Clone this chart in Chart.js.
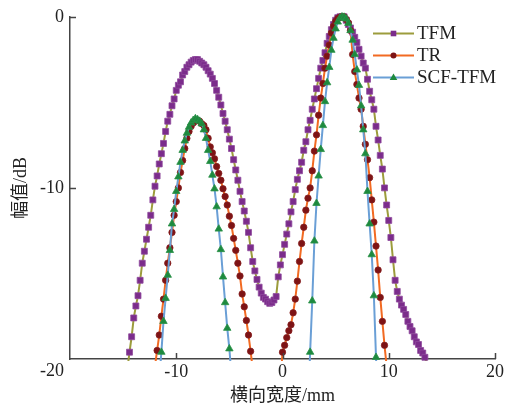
<!DOCTYPE html>
<html>
<head>
<meta charset="utf-8">
<script src="https://cdn.jsdelivr.net/npm/chart.js@4/dist/chart.umd.min.js"></script>
<style>
  body { margin: 0; background: #fff; }
</style>
</head>
<body>
<canvas id="beamChart" width="517" height="411"></canvas>
<script>
// axis ticks
const xTicks = [-20, -10, 0, 10, 20];
const yTicks = [0, -10, -20];

// TFM
const tfmX = [-14.6,-14.4,-14.2,-14.0,-13.8,-13.6,-13.4,-13.2,-13.0,-12.8,
  -12.6,-12.4,-12.2,-12.0,-11.8,-11.6,-11.4,-11.2,-11.0,-10.8,
  -10.6,-10.4,-10.2,-10.0,-9.8,-9.6,-9.4,-9.2,-9.0,-8.8,
  -8.6,-8.4,-8.2,-8.0,-7.8,-7.6,-7.4,-7.2,-7.0,-6.8,
  -6.6,-6.4,-6.2,-6.0,-5.8,-5.6,-5.4,-5.2,-5.0,-4.8,
  -4.6,-4.4,-4.2,-4.0,-3.8,-3.6,-3.4,-3.2,-3.0,-2.8,
  -2.6,-2.4,-2.2,-2.0,-1.8,-1.6,-1.4,-1.2,-1.0,-0.8,
  -0.6,-0.4,-0.2,0.0,0.2,0.4,0.6,0.8,1.0,1.2,
  1.4,1.6,1.8,2.0,2.2,2.4,2.6,2.8,3.0,3.2,
  3.4,3.6,3.8,4.0,4.2,4.4,4.6,4.8,5.0,5.2,
  5.4,5.6,5.8,6.0,6.2,6.4,6.6,6.8,7.0,7.2,
  7.4,7.6,7.8,8.0,8.2,8.4,8.6,8.8,9.0,9.2,
  9.4,9.6,9.8,10.0,10.2,10.4,10.6,10.8,11.0,11.2,
  11.4,11.6,11.8,12.0,12.2,12.4,12.6,12.8,13.0,13.2,
  13.4,13.6];
const tfmY = [-20.6,-19.6,-18.7,-17.6,-16.9,-16.3,-15.4,-14.4,-13.7,-13.0,
  -12.3,-11.6,-10.7,-9.9,-9.3,-8.6,-8.0,-7.4,-6.7,-6.1,
  -5.7,-5.2,-4.8,-4.3,-4.0,-3.8,-3.4,-3.2,-2.95,-2.8,
  -2.65,-2.55,-2.5,-2.5,-2.6,-2.7,-2.8,-2.95,-3.15,-3.35,
  -3.6,-3.9,-4.3,-4.7,-5.15,-5.65,-6.1,-6.6,-7.15,-7.7,
  -8.35,-8.95,-9.55,-10.2,-10.8,-11.35,-11.95,-12.6,-13.5,-14.3,
  -14.85,-15.35,-15.8,-16.15,-16.4,-16.5,-16.65,-16.75,-16.7,-16.55,
  -16.35,-15.2,-14.5,-13.9,-13.3,-12.7,-12.1,-11.4,-10.8,-10.1,
  -9.5,-9.0,-8.5,-7.8,-7.3,-6.6,-6.05,-5.4,-4.8,-4.2,
  -3.6,-3.0,-2.55,-2.1,-1.55,-1.15,-0.75,-0.45,-0.2,-0.05,
  0,0,0,-0.2,-0.45,-0.65,-0.9,-1.2,-1.5,-1.9,
  -2.3,-2.7,-3.0,-3.65,-4.35,-4.85,-5.4,-6.4,-7.2,-8.1,
  -8.9,-10.0,-11.0,-11.9,-12.9,-14.2,-15.4,-16.05,-16.5,-16.85,
  -17.1,-17.4,-17.8,-18.1,-18.35,-18.7,-19.0,-19.15,-19.5,-19.65,
  -19.9,-20.3];

// TR (gap where the curve is below -20 dB)
const trX = [-12.0,-11.8,-11.6,-11.4,-11.2,-11.0,-10.8,-10.6,-10.4,-10.2,
  -10.0,-9.8,-9.6,-9.4,-9.2,-9.0,-8.8,-8.6,-8.4,-8.2,
  -8.0,-7.8,-7.6,-7.4,-7.2,-7.0,-6.8,-6.6,-6.4,-6.2,
  -6.0,-5.8,-5.6,-5.4,-5.2,-5.0,-4.8,-4.6,-4.4,-4.2,
  -4.0,-3.8,-3.6,-3.4,-3.2,-3.0,-2.8,
  -1.5,
  -0.2,0.0,0.2,0.4,0.6,0.8,1.0,1.2,1.4,1.6,
  1.8,2.0,2.2,2.4,2.6,2.8,3.0,3.2,3.4,3.6,
  3.8,4.0,4.2,4.4,4.6,4.8,5.0,5.2,5.4,5.6,
  5.8,6.0,6.2,6.4,6.6,6.8,7.0,7.2,7.4,7.6,
  7.8,8.0,8.2,8.4,8.6,8.8,9.0,9.2,9.4,9.6,
  9.8];
const trY = [-20.4,-19.5,-18.6,-17.5,-16.5,-15.4,-14.4,-13.5,-12.6,-11.6,
  -10.8,-10.0,-9.1,-8.4,-7.7,-7.1,-6.7,-6.4,-6.2,-6.1,
  -6.05,-6.1,-6.25,-6.35,-6.6,-7.1,-7.6,-7.95,-8.3,-8.75,
  -9.15,-9.55,-10.05,-10.5,-11.0,-11.65,-12.2,-12.95,-13.65,-14.4,
  -15.15,-16.2,-16.95,-17.75,-18.6,-19.55,-20.6,
  null,
  -21.5,-19.6,-19.2,-18.75,-18.35,-18.0,-17.3,-16.5,-15.45,-14.3,
  -13.25,-12.3,-11.3,-10.6,-10.0,-9.0,-7.85,-6.9,-5.75,-4.75,
  -3.9,-3.0,-2.3,-1.65,-0.95,-0.55,-0.27,-0.1,-0.02,0,
  0,-0.15,-0.35,-0.8,-2.2,-3.2,-3.95,-4.75,-5.4,-6.4,
  -7.45,-8.35,-9.4,-10.7,-12.0,-13.4,-14.8,-16.4,-17.8,-19.2,
  -20.4];

// SCF-TFM
const scfX = [-11.6,-11.4,-11.2,-11.0,-10.8,-10.6,-10.4,-10.2,-10.0,-9.8,
  -9.6,-9.4,-9.2,-9.0,-8.8,-8.6,-8.4,-8.2,-8.0,-7.8,
  -7.6,-7.4,-7.2,-7.0,-6.8,-6.6,-6.4,-6.2,-6.0,-5.8,
  -5.6,-5.4,-5.2,-5.0,-4.8,
  -1.0,
  2.4,2.6,2.8,3.0,3.2,3.4,3.6,3.8,4.0,4.2,
  4.4,4.6,4.8,5.0,5.2,5.4,5.6,5.8,6.0,6.2,
  6.4,6.6,6.8,7.0,7.2,7.4,7.6,7.8,8.0,8.2,
  8.4,8.6,8.8,9.0];
const scfY = [-21.2,-19.6,-17.8,-16.45,-15.1,-13.65,-12.1,-11.25,-10.2,-9.35,
  -8.5,-7.8,-7.25,-6.8,-6.45,-6.2,-6.05,-5.95,-6.0,-6.1,
  -6.25,-6.6,-7.1,-7.8,-8.45,-9.25,-10.05,-11.1,-12.4,-13.6,
  -15.2,-16.7,-18.2,-19.4,-21.0,
  null,
  -23.0,-19.6,-16.6,-13.1,-10.9,-9.3,-7.75,-6.35,-4.95,-3.85,
  -2.95,-1.95,-1.25,-0.7,-0.3,-0.08,0,-0.02,-0.12,-0.38,
  -0.8,-1.36,-2.2,-3.1,-4.0,-5.2,-6.6,-8.0,-10.2,-12.1,
  -13.9,-16.3,-19.9,-23.0];

const serif = "'Liberation Serif', 'Times New Roman', 'Noto Sans CJK SC', serif";
const textColor = '#222';
const axisColor = '#444';

function pairs(xs, ys) {
    return xs.map((x, i) => ({ x: x, y: ys[i] }));
}

const clipBox = { left: 0, top: 8, right: 0, bottom: 2 };

// inward ticks, corner label and line+marker legend
const decorPlugin = {
    id: 'decor',
    afterDraw(chart) {
        const ctx = chart.ctx;
        const area = chart.chartArea;
        const xs = chart.scales.x;
        const ys = chart.scales.y;
        ctx.save();
        ctx.strokeStyle = axisColor;
        ctx.lineWidth = 1.5;
        ctx.beginPath();
        xTicks.forEach(v => {
            if (v === xTicks[0]) return;
            const px = Math.round(xs.getPixelForValue(v)) + 0.5;
            ctx.moveTo(px, area.bottom);
            ctx.lineTo(px, area.bottom - 6);
        });
        yTicks.forEach(v => {
            if (v === yTicks[yTicks.length - 1]) return;
            const py = Math.round(ys.getPixelForValue(v)) + 0.5;
            ctx.moveTo(area.left, py);
            ctx.lineTo(area.left + 6, py);
        });
        ctx.stroke();

        // shared corner label
        ctx.fillStyle = textColor;
        ctx.font = '18px ' + serif;
        ctx.textAlign = 'right';
        ctx.textBaseline = 'middle';
        ctx.fillText(String(yTicks[yTicks.length - 1]), area.left - 6, area.bottom + 12);

        // legend
        const x0 = 373, x1 = 414, xm = 393.5, tx = 417;
        const rows = [33.5, 55.5, 77.5];
        chart.data.datasets.forEach((ds, i) => {
            const y = rows[i];
            ctx.strokeStyle = ds.borderColor;
            ctx.lineWidth = 2;
            ctx.beginPath();
            ctx.moveTo(x0, y);
            ctx.lineTo(x1, y);
            ctx.stroke();
            ctx.fillStyle = ds.pointBackgroundColor;
            ctx.beginPath();
            if (ds.pointStyle === 'rect') {
                ctx.rect(xm - 2.8, y - 2.8, 5.6, 5.6);
            } else if (ds.pointStyle === 'circle') {
                ctx.arc(xm, y, 3, 0, Math.PI * 2);
            } else {
                ctx.moveTo(xm, y - 4);
                ctx.lineTo(xm + 3.8, y + 2.5);
                ctx.lineTo(xm - 3.8, y + 2.5);
                ctx.closePath();
            }
            ctx.fill();
            ctx.fillStyle = textColor;
            ctx.font = '19px ' + serif;
            ctx.textAlign = 'left';
            ctx.textBaseline = 'middle';
            ctx.fillText(ds.label, tx, y + 1);
        });
        ctx.restore();
    }
};

const ctx = document.getElementById('beamChart').getContext('2d');
const beamChart = new Chart(ctx, {
    type: 'line',
    data: {
        datasets: [{
            label: 'TFM',
            data: pairs(tfmX, tfmY),
            borderColor: '#9c9c3c',
            borderWidth: 2,
            pointStyle: 'rect',
            pointRadius: 4.2,
            pointBackgroundColor: '#7b2c8b',
            pointBorderColor: '#8f4a9d',
            pointBorderWidth: 0.8,
            clip: clipBox,
            order: 2
        }, {
            label: 'TR',
            data: pairs(trX, trY),
            borderColor: '#f26a22',
            borderWidth: 2,
            pointStyle: 'circle',
            pointRadius: 3.2,
            pointBackgroundColor: '#7d1315',
            pointBorderColor: '#86201f',
            pointBorderWidth: 0.8,
            clip: clipBox,
            order: 1
        }, {
            label: 'SCF-TFM',
            data: pairs(scfX, scfY),
            borderColor: '#6a9fd6',
            borderWidth: 2,
            pointStyle: 'triangle',
            pointRadius: 4.3,
            pointBackgroundColor: '#1d8a3e',
            pointBorderColor: '#2a9048',
            pointBorderWidth: 0.8,
            clip: clipBox,
            order: 0
        }]
    },
    options: {
        responsive: false,
        animation: false,
        spanGaps: false,
        layout: {
            padding: { top: 15, right: 22, left: 0, bottom: 0 }
        },
        plugins: {
            legend: { display: false },
            tooltip: { enabled: false }
        },
        scales: {
            x: {
                type: 'linear',
                min: -20,
                max: 20,
                afterFit: s => { s.height = 52; },
                afterBuildTicks: s => { s.ticks = xTicks.map(v => ({ value: v })); },
                ticks: {
                    color: textColor,
                    font: { family: serif, size: 18 },
                    padding: 2,
                    maxRotation: 0,
                    callback: v => (v === xTicks[0] ? '' : v)
                },
                grid: { display: true, drawOnChartArea: false, drawTicks: false },
                border: { display: true, color: axisColor, width: 1.5 },
                title: {
                    display: true,
                    text: '横向宽度/mm',
                    color: textColor,
                    font: { family: serif, size: 18 },
                    padding: { top: 0, bottom: 4 }
                }
            },
            y: {
                min: -20,
                max: 0,
                afterFit: s => { s.width = 70; },
                afterBuildTicks: s => { s.ticks = yTicks.map(v => ({ value: v })); },
                ticks: {
                    color: textColor,
                    font: { family: serif, size: 18 },
                    padding: 6,
                    callback: v => (v === yTicks[yTicks.length - 1] ? '' : v)
                },
                grid: { display: true, drawOnChartArea: false, drawTicks: false },
                border: { display: true, color: axisColor, width: 1.5 },
                title: {
                    display: true,
                    text: '幅值/dB',
                    color: textColor,
                    font: { family: serif, size: 18 },
                    padding: { top: 10, bottom: 0 }
                }
            }
        }
    },
    plugins: [decorPlugin]
});
</script>
</body>
</html>
